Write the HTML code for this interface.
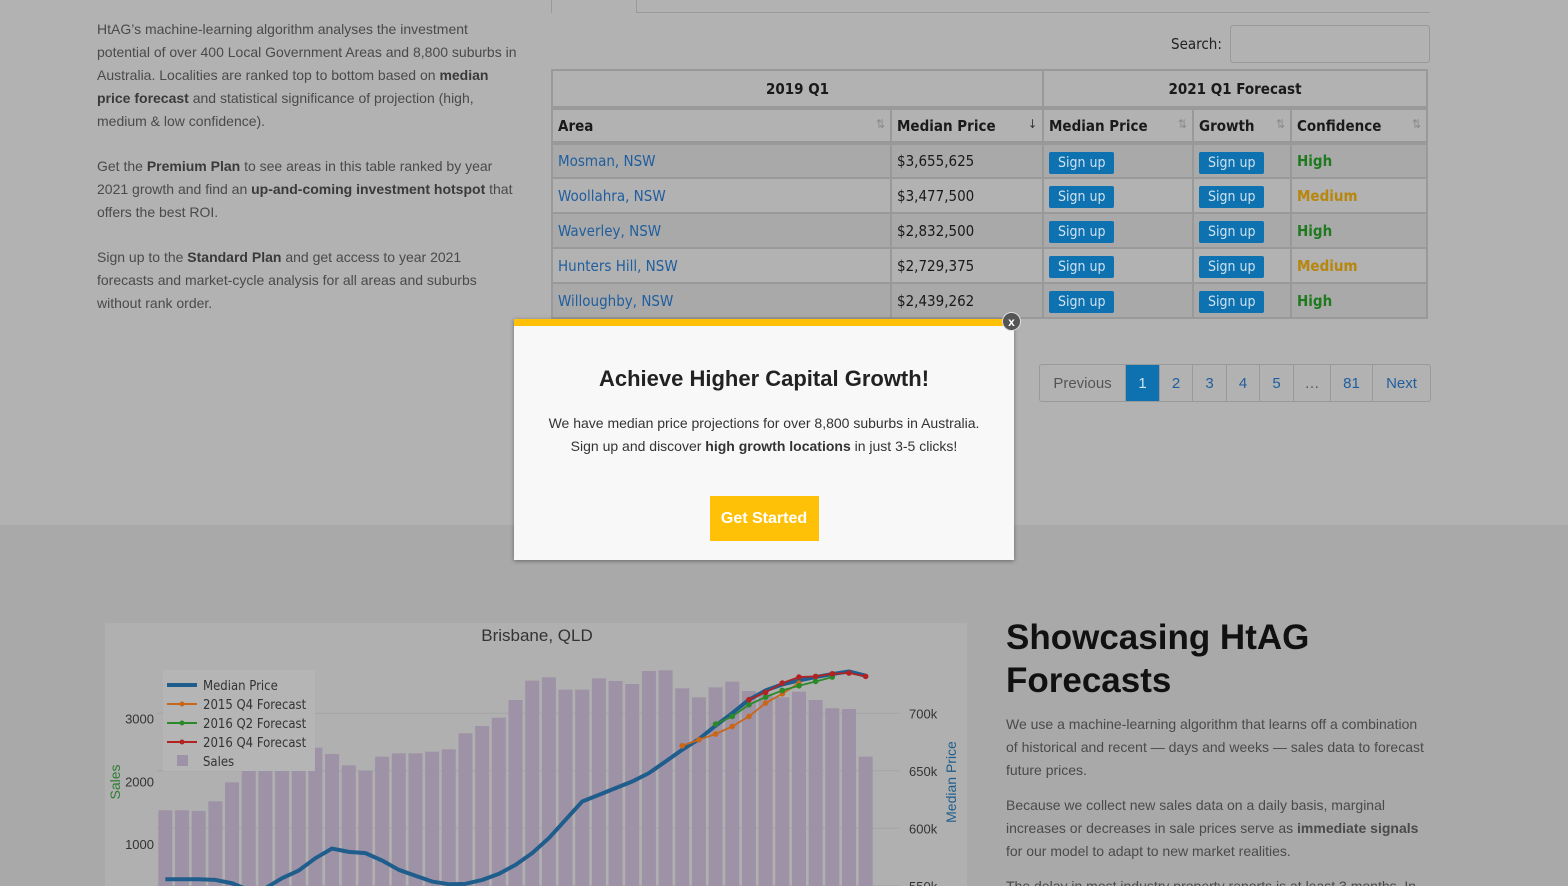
<!DOCTYPE html>
<html><head><meta charset="utf-8">
<style>
*{box-sizing:border-box;margin:0;padding:0}
html,body{overflow:hidden}
body{width:1568px;height:886px;background:#b2b2b2;font-family:"Liberation Sans",sans-serif;position:relative}
.abs{position:absolute}
.intro{left:97px;top:18px;width:423px;font-size:14px;line-height:23px;color:#4a4a4a}
.intro p{margin-bottom:22px}
.intro b{color:#3a3a3a}
table{position:absolute;left:551px;top:69px;width:877px;border-collapse:collapse;font-size:15px;color:#1a1a1a;font-family:"DejaVu Sans Condensed","Liberation Sans",sans-serif}
td,th{border:2px solid #999;height:35px;padding:0 5px;text-align:left}
th{font-weight:bold}
tr.r1 th{text-align:center;height:38px;border-bottom:4px solid #999}
tr.r2 th{border-bottom:4px solid #999}
tbody tr:nth-child(odd){background:#a9a9a9}
a{color:#1f5e9e;text-decoration:none}
.su{display:inline-block;background:#0e71b0;color:#cfe2ef;font-size:14px;padding:3px 9px;border-radius:2px;margin-top:3px}
.hi{color:#1f7a1f;font-weight:bold}.me{color:#b8860b;font-weight:bold}
.sort{float:right;color:#888;font-weight:normal;font-size:12px}
.pg{left:1039px;top:364px;height:38px;display:flex;border:1px solid #999;border-radius:3px;font-size:15px}
.pg div{border-left:1px solid #999;display:flex;align-items:center;justify-content:center;color:#1f5e9e}
.bottom{left:0;top:525px;width:1568px;height:361px;background:#a9a9a9}
.modal{left:514px;top:319px;width:500px;height:241px;background:#f8f8f8;border-top:7px solid #ffc107;text-align:center;box-shadow:0 1px 4px rgba(0,0,0,.4)}
</style></head><body>
<div class="abs" style="left:636px;top:12px;width:794px;height:1px;background:#999"></div>
<div class="abs" style="left:551px;top:0;width:1px;height:13px;background:#999"></div>
<div class="abs" style="left:636px;top:0;width:1px;height:13px;background:#999"></div>
<div class="abs intro">
<p>HtAG’s machine-learning algorithm analyses the investment potential of over 400 Local Government Areas and 8,800 suburbs in Australia. Localities are ranked top to bottom based on <b>median price forecast</b> and statistical significance of projection (high, medium &amp; low confidence).</p>
<p>Get the <b>Premium Plan</b> to see areas in this table ranked by year 2021 growth and find an <b>up-and-coming investment hotspot</b> that offers the best ROI.</p>
<p>Sign up to the <b>Standard Plan</b> and get access to year 2021 forecasts and market-cycle analysis for all areas and suburbs without rank order.</p>
</div>
<div class="abs" style="left:1171px;top:35px;font-size:15px;color:#222;font-family:'DejaVu Sans Condensed',sans-serif">Search:</div>
<div class="abs" style="left:1230px;top:25px;width:200px;height:38px;border:1px solid #999;border-radius:3px"></div>
<table>
<thead>
<tr class="r1"><th colspan="2" style="width:491px">2019 Q1</th><th colspan="3">2021 Q1 Forecast</th></tr>
<tr class="r2"><th style="width:339px">Area<span class="sort">⇅</span></th><th style="width:152px">Median Price<span class="sort" style="color:#333">↓</span></th><th style="width:150px">Median Price<span class="sort">⇅</span></th><th style="width:98px">Growth<span class="sort">⇅</span></th><th>Confidence<span class="sort">⇅</span></th></tr>
</thead>
<tbody>
<tr><td><a>Mosman, NSW</a></td><td>$3,655,625</td><td><span class="su">Sign up</span></td><td><span class="su">Sign up</span></td><td class="hi">High</td></tr>
<tr><td><a>Woollahra, NSW</a></td><td>$3,477,500</td><td><span class="su">Sign up</span></td><td><span class="su">Sign up</span></td><td class="me">Medium</td></tr>
<tr><td><a>Waverley, NSW</a></td><td>$2,832,500</td><td><span class="su">Sign up</span></td><td><span class="su">Sign up</span></td><td class="hi">High</td></tr>
<tr><td><a>Hunters Hill, NSW</a></td><td>$2,729,375</td><td><span class="su">Sign up</span></td><td><span class="su">Sign up</span></td><td class="me">Medium</td></tr>
<tr><td><a>Willoughby, NSW</a></td><td>$2,439,262</td><td><span class="su">Sign up</span></td><td><span class="su">Sign up</span></td><td class="hi">High</td></tr>
</tbody></table>
<div class="abs pg">
<div style="width:85px;border-left:none;color:#555">Previous</div>
<div style="width:34px;background:#0e71b0;color:#cfe2ef">1</div>
<div style="width:33px">2</div>
<div style="width:34px">3</div>
<div style="width:33px">4</div>
<div style="width:34px">5</div>
<div style="width:37px;color:#555">…</div>
<div style="width:42px">81</div>
<div style="width:58px">Next</div>
</div>
<div class="abs bottom"></div>
<svg class="abs" style="left:0;top:0" width="1568" height="886" id="chart">
<rect x="105" y="623" width="862" height="263" fill="#b0b0b0"/>
<text x="537" y="641" text-anchor="middle" font-size="17" fill="#333" font-family="Liberation Sans">Brisbane, QLD</text>
<g id="grid"></g><g id="bars"></g><g id="lines"></g><g id="axes"></g>
<text x="120" y="782" transform="rotate(-90 120 782)" text-anchor="middle" font-size="14" fill="#2e7d32">Sales</text>
<text x="956" y="782" transform="rotate(-90 956 782)" text-anchor="middle" font-size="14" fill="#1f5e8c">Median Price</text>
<g font-size="13" fill="#333" font-family="DejaVu Sans Condensed, Liberation Sans, sans-serif">
<rect x="163" y="670" width="152" height="101" fill="#b5b5b5"/>
<line x1="167" y1="685" x2="197" y2="685" stroke="#1f5e8c" stroke-width="4"/><text x="203" y="690">Median Price</text>
<line x1="167" y1="704" x2="197" y2="704" stroke="#c8661a" stroke-width="2"/><circle cx="182" cy="704" r="2.5" fill="#c8661a"/><text x="203" y="709">2015 Q4 Forecast</text>
<line x1="167" y1="723" x2="197" y2="723" stroke="#2a8a2a" stroke-width="2"/><circle cx="182" cy="723" r="2.5" fill="#2a8a2a"/><text x="203" y="728">2016 Q2 Forecast</text>
<line x1="167" y1="742" x2="197" y2="742" stroke="#b22222" stroke-width="2"/><circle cx="182" cy="742" r="2.5" fill="#b22222"/><text x="203" y="747">2016 Q4 Forecast</text>
<rect x="177" y="755" width="11" height="11" fill="#9e92a6"/><text x="203" y="766">Sales</text>
</g>
</svg>
<div class="abs" style="left:1006px;top:616px;font-size:35px;font-weight:bold;line-height:43px;color:#111">Showcasing HtAG<br>Forecasts</div>
<div class="abs" style="left:1006px;top:713px;width:420px;font-size:14px;line-height:23px;color:#4a4a4a">
<p style="margin-bottom:12px">We use a machine-learning algorithm that learns off a combination of historical and recent — days and weeks — sales data to forecast future prices.</p>
<p style="margin-bottom:12px">Because we collect new sales data on a daily basis, marginal increases or decreases in sale prices serve as <b>immediate signals</b> for our model to adapt to new market realities.</p>
<p>The delay in most industry property reports is at least 3 months. In</p>
</div>
<div class="abs modal">
<div style="margin-top:40px;font-size:22px;font-weight:bold;color:#222">Achieve Higher Capital Growth!</div>
<div style="margin-top:20px;font-size:14px;line-height:23px;color:#333">We have median price projections for over 8,800 suburbs in Australia.<br>Sign up and discover <b>high growth locations</b> in just 3-5 clicks!</div>
<div style="margin:38px auto 0;width:109px;height:45px;background:#ffc107;color:#fff;font-weight:bold;font-size:16px;line-height:45px">Get Started</div>
</div>
<div class="abs" style="left:1002px;top:312px;width:19px;height:19px;border-radius:50%;background:#555;color:#fff;font-size:12px;font-weight:bold;text-align:center;line-height:18px;border:1px solid #ddd">x</div>
<script>
const sales=[1540,1540,1530,1683,1985,3121,3025,2818,2675,2537,2436,2256,2171,2394,2447,2447,2473,2511,2766,2882,3015,3296,3604,3657,3460,3460,3641,3599,3551,3758,3769,3482,3339,3498,3588,3439,3400,3339,3429,3296,3164,3153,2394];
const price=[555.7,555.7,555.7,555.1,552.2,546.4,547.9,556.6,563.3,574.0,582.4,579.5,578.4,572.0,563.9,558.7,553.7,551.4,551.7,555.1,560.4,568.2,578.4,591.4,607.4,623.3,629.1,634.9,640.7,648.0,658.1,668.3,677.6,689.2,700.2,711.8,719.9,725.1,728.6,731.5,734.1,736.4,732.7];
const f2015Start=31; const f2015=[671.8,677,682,688.6,697.3,708.9,717,726.3];
const f2016q2Start=33; const f2016q2=[690.6,697.3,707.4,714.1,719.9,723.9,727.7,731.5];
const f2016q4Start=35; const f2016q4=[711.8,718.2,726.3,731.5,732.1,734.4,735,732.1];
const salesTicks=[1000,2000,3000];
const priceTicks=[550,600,650,700];
const NS='http://www.w3.org/2000/svg';
const x0=157,x1=874,pitch=(x1-x0)/sales.length;
const xs=i=>x0+pitch*(i+0.5);
const ys=v=>907-v*0.0628;
const yp=v=>713.3-(v-700)*1.15;
function mk(t,a,p){const e=document.createElementNS(NS,t);for(const k in a)e.setAttribute(k,a[k]);p.appendChild(e);return e;}
const G=document.getElementById('grid'),B=document.getElementById('bars'),L=document.getElementById('lines'),A=document.getElementById('axes');
priceTicks.forEach(v=>{const l=mk('line',{x1:157,x2:900,y1:yp(v),y2:yp(v),stroke:'#a4a4a4','stroke-width':1},G);


const t=mk('text',{x:909,y:yp(v)+5,'font-size':13,fill:'#333'},A);t.textContent=v+'k';

});
salesTicks.forEach(v=>{const t=mk('text',{x:154,y:ys(v)+5,'font-size':13,fill:'#333','text-anchor':'end'},A);t.textContent=v;

});
sales.forEach((v,i)=>{const r=mk('rect',{x:xs(i)-7,y:ys(v),width:14,height:907-ys(v),fill:'#9e92a6'},B);

});
function line(arr,start,col,w,dots,name){const pts=arr.map((v,i)=>xs(i+start)+','+yp(v)).join(' ');
const p=mk('polyline',{points:pts,fill:'none',stroke:col,'stroke-width':w,'stroke-linejoin':'round'},L);


if(dots)arr.forEach((v,i)=>{const c=mk('circle',{cx:xs(i+start),cy:yp(v),r:2.8,fill:col},L);

});}
line(price,0,'#1f5e8c',4,false,'median-price-line');
line(f2015,f2015Start,'#c8661a',1.8,true,'forecast-2015q4');
line(f2016q2,f2016q2Start,'#2a8a2a',1.8,true,'forecast-2016q2');
line(f2016q4,f2016q4Start,'#b22222',1.8,true,'forecast-2016q4');
</script>
</body></html>
